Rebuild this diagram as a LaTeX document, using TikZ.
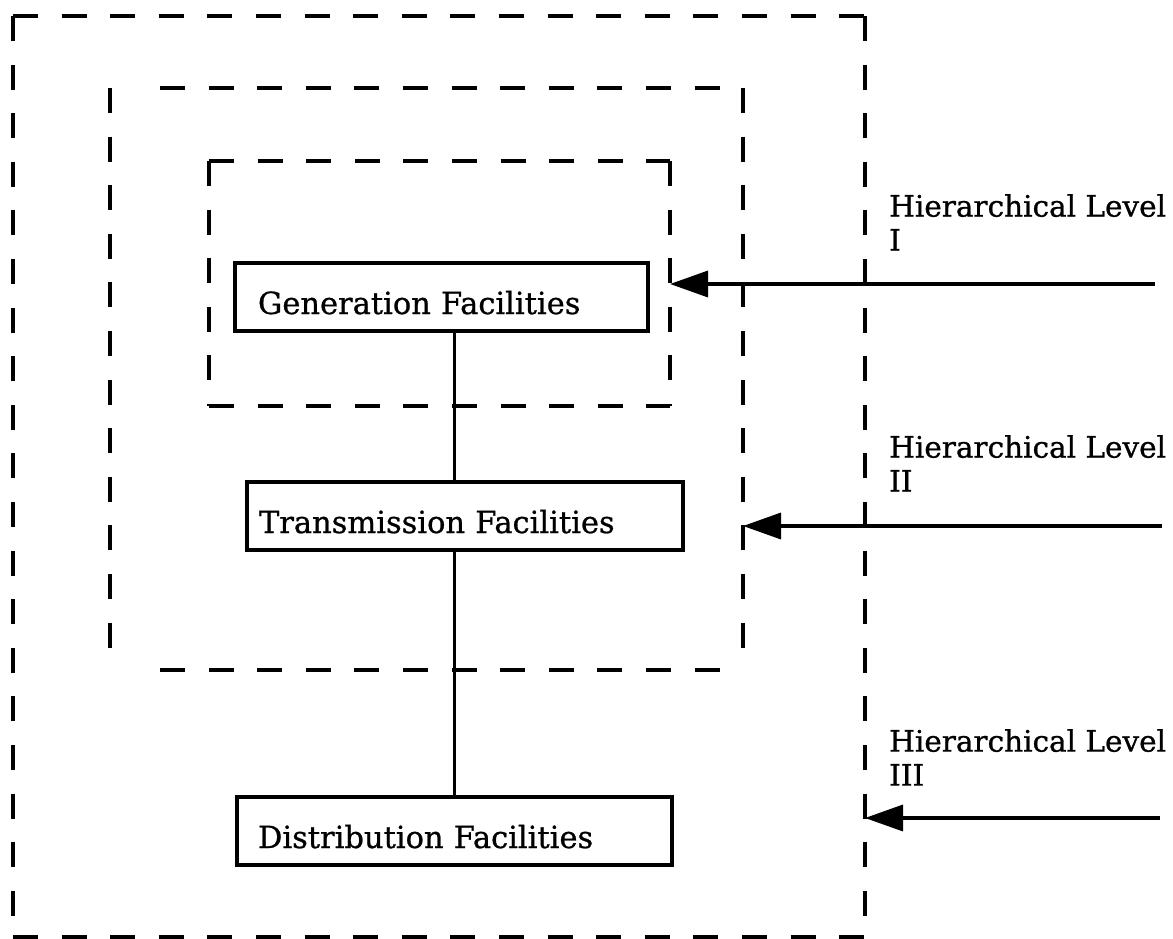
\documentclass[tikz,border=0pt]{standalone}
\usepackage{fontspec}
\setmainfont[FakeBold=0.8]{DejaVu Serif}
\usetikzlibrary{arrows.meta}
\tikzset{
  frame/.style={draw=none, inner sep=0pt, outer sep=0pt, anchor=north west},
  dline/.style={line width=3.5pt, dash pattern=on 25pt off 23.6pt, line cap=butt},
  facility/.style={draw, line width=3.5pt, anchor=north west, inner ysep=17pt,
    text height=34pt, text depth=0pt, align=left, outer sep=0pt,
    font=\fontsize{30.5}{34}\selectfont},
  level/.style={anchor=north west, inner sep=0pt, align=left,
    font=\fontsize{29.5}{34}\selectfont},
  conn/.style={line width=3pt},
  arr/.style={line width=3.5pt, -{Triangle[length=38pt,width=26pt]}}
}
\begin{document}
\begin{tikzpicture}[x=1pt,y=-1pt]
\useasboundingbox (0,0) rectangle (1173,939);
% dashed frames (hierarchical levels)
\node[frame, minimum width=852pt, minimum height=921pt] (outer) at (13,16) {};
\node[frame, minimum width=633pt, minimum height=582pt] (middle) at (110,88) {};
\node[frame, minimum width=461pt, minimum height=245pt] (inner) at (209,161) {};
\foreach \f in {outer,inner}{
  \draw[dline] (\f.north west) -- (\f.north east);
  \draw[dline] (\f.north west) -- (\f.south west);
  \draw[dline] (\f.south west) -- (\f.south east);
  \draw[dline] (\f.north east) -- (\f.south east);
}
\draw[dline] ([xshift=50pt]middle.north west) -- (middle.north east);
\draw[dline] (middle.north west) -- (middle.south west);
\draw[dline] ([xshift=50pt]middle.south west) -- (middle.south east);
\draw[dline] (middle.north east) -- (middle.south east);
% facility boxes
\node[facility, inner xsep=23pt, text width=367pt] (gen) at (235,263) {\mbox{Generation Facilities}};
\node[facility, inner xsep=12pt, text width=412pt] (trans) at (247,482) {\mbox{Transmission Facilities}};
\node[facility, inner xsep=21pt, text width=393pt] (dist) at (237,797) {\mbox{Distribution Facilities}};
% connectors
\coordinate (cx) at (454,0);
\draw[conn] (gen.south -| cx) -- (trans.north -| cx);
\draw[conn] (trans.south -| cx) -- (dist.north -| cx);
% level labels
\node[level] (l1) at (889,194) {Hierarchical Level\\I};
\node[level] (l2) at (889,435) {Hierarchical Level\\II};
\node[level] (l3) at (889,729) {Hierarchical Level\\III};
% arrows
\coordinate (s1) at (1155,284);
\coordinate (s2) at (1162,526);
\coordinate (s3) at (1160,818);
\draw[arr] (s1) -- (s1 -| inner.east);
\draw[arr] (s2) -- (s2 -| middle.east);
\draw[arr] (s3) -- (s3 -| outer.east);
\end{tikzpicture}
\end{document}
